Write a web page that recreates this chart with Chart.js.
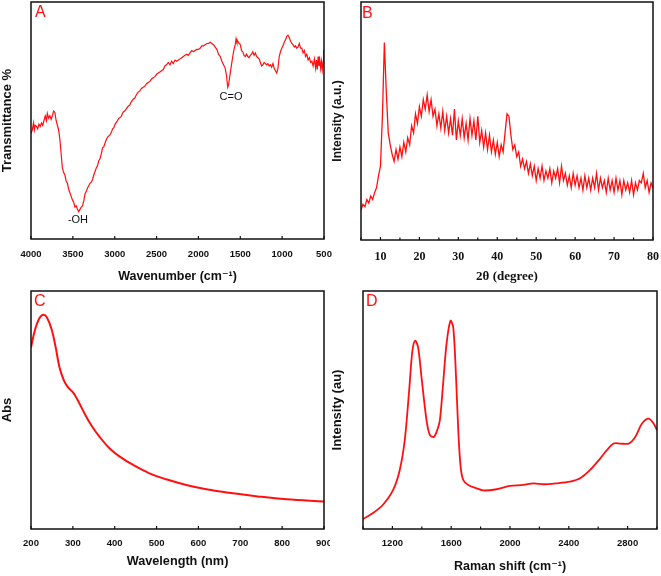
<!DOCTYPE html>
<html>
<head>
<meta charset="utf-8">
<script src="https://cdn.jsdelivr.net/npm/chart.js@4"></script>
<style>
  html, body { margin: 0; padding: 0; background: #fff; }
  body { position: relative; width: 661px; height: 576px; overflow: hidden; }
  canvas { position: absolute; }
</style>
</head>
<body>
<canvas id="pa" width="336" height="290" style="left:0;top:0"></canvas>
<canvas id="pb" width="331" height="290" style="left:330px;top:0"></canvas>
<canvas id="pc" width="330" height="286" style="left:0;top:290px"></canvas>
<canvas id="pd" width="331" height="286" style="left:330px;top:290px"></canvas>
<script>
// A: FTIR
const aWave = [4000,3985,3970,3960,3950,3935,3920,3905,3890,3875,3860,3845,3830,3815,3805,3790,3775,3760,3745,3730,3715,3700,3685,3670,3655,3640,3625,3610,3595,3580,3565,3550,3535,3520,3505,3490,3475,3460,3445,3430,3415,3400,3385,3370,3355,3340,3325,3310,3295,3280,3265,3250,3235,3220,3205,3190,3175,3160,3145,3130,3115,3100,3085,3070,3055,3040,3025,3010,2995,2975,2950,2925,2900,2880,2860,2840,2820,2800,2780,2760,2740,2720,2700,2680,2660,2640,2620,2600,2580,2560,2540,2520,2500,2480,2460,2440,2420,2400,2380,2360,2340,2320,2300,2280,2260,2240,2220,2200,2180,2160,2140,2120,2100,2080,2060,2040,2020,2000,1980,1960,1940,1920,1900,1880,1860,1840,1820,1800,1780,1760,1740,1720,1700,1680,1665,1650,1640,1630,1620,1605,1590,1575,1560,1550,1540,1530,1515,1500,1485,1470,1455,1440,1425,1410,1395,1380,1365,1350,1335,1320,1305,1290,1275,1260,1245,1230,1215,1200,1185,1170,1155,1140,1125,1110,1095,1080,1065,1050,1035,1020,1005,990,975,960,945,930,915,900,885,870,855,840,825,810,795,780,765,750,735,720,705,690,675,660,645,630,615,600,590,580,570,560,550,540,530,520,510,505];
const aTrans = [44.5,46,49,46,48,47.5,46.5,48.5,47.5,49,48,50,52,50,53,51,52,50.5,52,54,53.5,50,48,46,42,36,30,28,27,24.5,23.5,21,19.5,18,16.5,15.5,13.5,14,12.5,11.5,12.5,13.5,14,16,19,20,21.5,22.5,23.5,24,25,27,28.5,30,31,33,34,36,38.5,39,40.5,42,43,43.5,44,45,46.5,47,48.5,49.5,51,51.5,53.5,54,55,56,56.5,58,59,59.5,61,62,62.5,63.5,64,64.5,65.5,66,66.5,67.5,68,68.5,69.5,70,70.5,71,71.5,73,73.5,74.5,73.5,75,74,75.5,75,75.5,76,76.5,77,77.5,78,77.5,78.5,79.5,79,79.5,80,80,80.5,81.5,81.5,82,82.5,82.5,83,82.5,82,81,80,78,77,75,73.5,72,69,64,65,67.5,70,73.5,77,80,82,84.5,83,83.5,82.5,82,79.5,79,77.5,77,78,77,76.5,77.5,78,79,77.5,78.5,77,76.5,76,74.5,73,73.5,74.5,74,73.5,74,73,73.5,72.5,74,72,71,70,72,77,79,80.5,81.5,83,84,85.5,86,85,83.5,82.5,82,81,81.5,80.5,81,82.5,80.5,80.5,78.5,79.5,77,78,75.5,76.5,74.5,75,73,76,72,75.5,71.5,77,73,75.5,72,75,71.5,75,80];
const aTicks = [4000,3500,3000,2500,2000,1500,1000,500];

// B: XRD
const bAngle = [5,5.5,6,6.5,7,7.5,8,8.5,9,9.5,10,10.5,11,11.5,12,12.5,13,13.5,14,14.5,15,15.5,16,16.5,17,17.5,18,18.5,19,19.5,20,20.5,21,21.5,22,22.5,23,23.5,24,24.5,25,25.5,26,26.5,27,27.5,28,28.5,29,29.5,30,30.5,31,31.5,32,32.5,33,33.5,34,34.5,35,35.5,36,36.5,37,37.5,38,38.5,39,39.5,40,40.5,41,41.5,42,42.5,43,43.5,44,44.5,45,45.5,46,46.5,47,47.5,48,48.5,49,49.5,50,50.5,51,51.5,52,52.5,53,53.5,54,54.5,55,55.5,56,56.5,57,57.5,58,58.5,59,59.5,60,60.5,61,61.5,62,62.5,63,63.5,64,64.5,65,65.5,66,66.5,67,67.5,68,68.5,69,69.5,70,70.5,71,71.5,72,72.5,73,73.5,74,74.5,75,75.5,76,76.5,77,77.5,78,78.5,79,79.5,80];
const bIntensity = [12.6,15,14,17,15.5,18.5,17,20,22,27,
  31,52,83,62,45,40,36,33,38,34,
  39,35,41,37,43,40,48,45,53,49,
  56,52,59,55,61,54,59,52,55,48,
  53,47,54,46,52,45,51,44,55,42,
  50,44,51,43,49,42,51,44,50,42,
  52,41,46,39,45,38,44,37,42,36,
  41,35,40,37,45,53,52,44,38,40,
  35,37,31,34,30,33,28,32,27,31,
  25,30,26,31,25,29,26,30,24,29,
  26,30,24,31,25,28,23,27,22,28,
  23,27,22,26,21,27,22,26,21,26,
  22,28,21,26,22,25,20,26,21,25,
  20,26,21,25,19,25,21,24,20,25,
  19,24,21,25,24,28,22,25,20,24,
  22];
const bTicks = [10,20,30,40,50,60,70,80];
const bMinor = [5,15,25,35,45,55,65,75];

// C: UV-vis
const cWave = [200,209,219,229,238,249,259,268,278,288,300,312,328,344,364,388,412,444,483,523,571,619,683,746,810,900];
const cAbs = [76.3,83.3,88.2,90,88.9,84,76.3,68,62.7,59.6,57.5,54,48.5,43.6,38.7,33.8,30.4,26.9,23.4,20.9,18.5,16.7,15,13.6,12.5,11.6];
const cTicks = [200,300,400,500,600,700,800,900];

// D: Raman
const dShift = [1000,1068,1136,1205,1250,1284,1314,1336,1355,1375,1398,1432,1455,1482,1505,1523,1545,1568,1595,1614,1632,1648,1664,1682,1716,1773,1818,1909,2000,2091,2159,2227,2318,2409,2477,2545,2614,2659,2705,2750,2807,2852,2898,2943,2977,3000];
const dIntensity = [4.2,6.7,10.2,16.4,24.8,37.3,58.2,74.9,79.1,76.3,63.8,45.7,39.4,38.7,41.5,45.7,61,77.7,87.5,84.7,65.2,41.5,26.2,20.6,18.5,17.1,16.2,16.7,18.1,18.5,19.2,18.8,19.2,19.9,21.3,24.8,29.7,33.1,35.9,35.9,35.9,38.7,44.3,46.4,44.3,41.5];
const dTicks = [1200,1600,2000,2400,2800];
const dMinor = [1000,1400,1800,2200,2600,3000];

const RED = '#ff1010';
const SANS = '"Liberation Sans", Arial, "DejaVu Sans", sans-serif';
const SERIF = '"Liberation Serif", "Times New Roman", "DejaVu Serif", serif';

// box, inward ticks, panel letter and notes
const framePlugin = {
  id: 'frame',
  afterDraw(chart, args, opts) {
    const { ctx, chartArea: a } = chart;
    const x = chart.scales.x, y = chart.scales.y;
    ctx.save();
    ctx.strokeStyle = '#111';
    ctx.lineWidth = 1.5;
    ctx.strokeRect(a.left, a.top, a.right - a.left, a.bottom - a.top);
    ctx.lineWidth = 1.2;
    ctx.beginPath();
    x.ticks.forEach(t => {
      const px = x.getPixelForValue(t.value);
      ctx.moveTo(px, a.bottom);
      ctx.lineTo(px, a.bottom - 3);
    });
    (opts.minor || []).forEach(v => {
      const px = x.getPixelForValue(v);
      ctx.moveTo(px, a.bottom);
      ctx.lineTo(px, a.bottom - 2.5);
    });
    ctx.stroke();
    ctx.fillStyle = RED;
    ctx.font = '16px ' + SANS;
    ctx.textAlign = 'left';
    ctx.textBaseline = 'alphabetic';
    ctx.fillText(opts.letter, a.left + opts.lx, a.top + opts.ly);
    (opts.notes || []).forEach(n => {
      ctx.fillStyle = '#111';
      ctx.font = '11px ' + SANS;
      ctx.textAlign = 'center';
      ctx.textBaseline = 'middle';
      ctx.fillText(n.text, x.getPixelForValue(n.x), y.getPixelForValue(n.y));
    });
    ctx.restore();
  }
};

function makePanel(id, p) {
  const pts = p.xs.map((v, i) => ({ x: v, y: p.ys[i] }));
  return new Chart(document.getElementById(id), {
    type: 'line',
    data: { datasets: [{ data: pts, borderColor: RED, borderWidth: p.lw, pointRadius: 0, tension: p.tension, fill: false }] },
    options: {
      responsive: false,
      animation: false,
      layout: { padding: { top: p.top, right: p.right, left: 0, bottom: 0 } },
      scales: {
        x: {
          type: 'linear',
          min: p.min, max: p.max, reverse: !!p.reverse,
          grid: { display: false },
          border: { display: false },
          afterBuildTicks: s => { s.ticks = p.ticks.map(v => ({ value: v })); },
          afterFit: s => { s.height = p.xh; s.paddingLeft = 0; s.paddingRight = 0; },
          ticks: {
            autoSkip: false, maxRotation: 0, color: '#111', padding: p.tpad,
            font: { family: p.tickFamily, size: p.tickSize, weight: 'bold' },
            callback: v => String(v)
          },
          title: {
            display: true, text: p.xTitle, color: '#111',
            font: { family: p.xTitleFamily, size: p.xTitleSize, weight: 'bold' },
            padding: { top: 0, bottom: p.xTitlePad }
          }
        },
        y: {
          min: 0, max: 100,
          grid: { display: false },
          border: { display: false },
          ticks: { display: false },
          afterFit: s => { s.width = p.yw; s.paddingTop = 0; s.paddingBottom = 0; },
          title: {
            display: true, text: p.yTitle, color: '#111',
            font: { family: SANS, size: p.yTitleSize, weight: 'bold' },
            padding: { top: 0, bottom: 0 }
          }
        }
      },
      plugins: {
        legend: { display: false },
        tooltip: { enabled: false },
        frame: { letter: p.letter, lx: p.lx, ly: p.ly, minor: p.minor, notes: p.notes }
      }
    },
    plugins: [framePlugin]
  });
}

makePanel('pa', {
  xs: aWave, ys: aTrans, lw: 1.2, tension: 0, min: 500, max: 4000, reverse: true,
  ticks: aTicks, top: 2, right: 12, yw: 31, xh: 51, tpad: 2,
  tickFamily: SANS, tickSize: 9.5,
  xTitle: 'Wavenumber (cm\u207B\u00B9)', xTitleFamily: SANS, xTitleSize: 12.5, xTitlePad: 5.5,
  yTitle: 'Transmittance %', yTitleSize: 13,
  letter: 'A', lx: 4, ly: 15,
  notes: [{ text: '-OH', x: 3439, y: 8 }, { text: 'C=O', x: 1611, y: 60 }]
});

makePanel('pb', {
  xs: bAngle, ys: bIntensity, lw: 1.3, tension: 0, min: 5, max: 80,
  ticks: bTicks, minor: bMinor, top: 2, right: 8, yw: 31, xh: 50, tpad: 2,
  tickFamily: SERIF, tickSize: 12,
  xTitle: '2\u03B8 (degree)', xTitleFamily: SERIF, xTitleSize: 13, xTitlePad: 5.5,
  yTitle: 'Intensity (a.u.)', yTitleSize: 12,
  letter: 'B', lx: 1, ly: 16
});

makePanel('pc', {
  xs: cWave, ys: cAbs, lw: 2, tension: 0.4, min: 200, max: 900,
  ticks: cTicks, top: 1, right: 6, yw: 31, xh: 47, tpad: 1,
  tickFamily: SANS, tickSize: 9.5,
  xTitle: 'Wavelength (nm)', xTitleFamily: SANS, xTitleSize: 12.7, xTitlePad: 6.7,
  yTitle: 'Abs', yTitleSize: 13,
  letter: 'C', lx: 3, ly: 15
});

makePanel('pd', {
  xs: dShift, ys: dIntensity, lw: 1.8, tension: 0.3, min: 1000, max: 3000,
  ticks: dTicks, minor: dMinor, top: 1, right: 4, yw: 33, xh: 47, tpad: 1,
  tickFamily: SANS, tickSize: 9.5,
  xTitle: 'Raman shift (cm\u207B\u00B9)', xTitleFamily: SANS, xTitleSize: 12.5, xTitlePad: 1.5,
  yTitle: 'Intensity (au)', yTitleSize: 13,
  letter: 'D', lx: 3, ly: 15
});
</script>
</body>
</html>
